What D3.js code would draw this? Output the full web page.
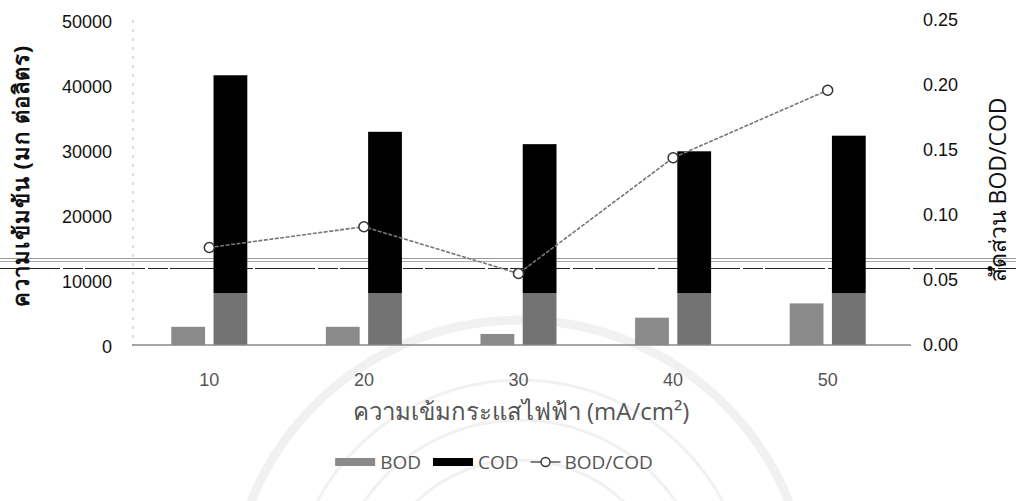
<!DOCTYPE html>
<html>
<head>
<meta charset="utf-8">
<script src="https://cdn.jsdelivr.net/npm/d3@7"></script>
<style>
  body { margin: 0; background: #fff; }
  svg { font-family: "Open Sans", "Noto Sans", sans-serif; }
</style>
</head>
<body>
<script>
const width = 1016,
  height = 501;

// data
const currents = ["10", "20", "30", "40", "50"];
const bod = [2800, 2800, 1700, 4200, 6400];
const cod = [41500, 32800, 30900, 29800, 32200];
const ratio = [0.075, 0.091, 0.055, 0.144, 0.196];
const leftTicks = [0, 10000, 20000, 30000, 40000, 50000];
const rightTicks = [0, 0.05, 0.1, 0.15, 0.2, 0.25];

const margin = { top: 20, right: 109, bottom: 156, left: 132 };

const svg = d3
  .select("body")
  .append("svg")
  .attr("width", width)
  .attr("height", height);

// faint watermark seal behind everything
const wm = svg.append("g").attr("fill", "none").attr("stroke", "#f1f1f1");
[150, 190, 230, 290].forEach((r, i) => {
  wm.append("circle")
    .attr("cx", 520)
    .attr("cy", 610)
    .attr("r", r)
    .attr("stroke-width", i === 3 ? 9 : 3);
});

const x = d3
  .scaleBand()
  .domain(currents)
  .range([margin.left, width - margin.right - 2])
  .padding(0);

const series = d3
  .scaleBand()
  .domain(["BOD", "COD"])
  .range([-38, 38])
  .paddingInner(0.2);

const y = d3
  .scaleLinear()
  .domain([0, 50000])
  .range([height - margin.bottom, margin.top]);

const y2 = d3
  .scaleLinear()
  .domain([0, 0.25])
  .range([height - margin.bottom, margin.top]);

const cx = (d) => x(d) + x.bandwidth() / 2;

// scan lines crossing the figure (drawn under the bars)
const scan = svg.append("g");
scan.append("line").attr("x1", 0).attr("x2", width).attr("y1", 258.5).attr("y2", 258.5).attr("stroke", "#999");
scan.append("line").attr("x1", 0).attr("x2", width).attr("y1", 261.5).attr("y2", 261.5).attr("stroke", "#aaa");
scan.append("line").attr("x1", 0).attr("x2", width).attr("y1", 268.5).attr("y2", 268.5)
  .attr("stroke", "#222").attr("stroke-dasharray", "60,3,20,2");
scan.append("circle").attr("cx", 990).attr("cy", 268.5).attr("r", 2.5).attr("fill", "#111");

// left axis line, dotted
svg.append("line")
  .attr("x1", margin.left + 1).attr("x2", margin.left + 1)
  .attr("y1", margin.top).attr("y2", y(0))
  .attr("stroke", "#bbb")
  .attr("stroke-dasharray", "3,6");

// COD bars are black with a grey lower band in the scan
const defs = svg.append("defs");
const grad = defs
  .append("linearGradient")
  .attr("id", "codFill")
  .attr("gradientUnits", "userSpaceOnUse")
  .attr("x1", 0).attr("x2", 0)
  .attr("y1", y(0)).attr("y2", y(50000));
const cut = (y(0) - y(8000)) / (y(0) - y(50000));
grad.append("stop").attr("offset", 0).attr("stop-color", "#737373");
grad.append("stop").attr("offset", cut).attr("stop-color", "#737373");
grad.append("stop").attr("offset", cut).attr("stop-color", "#000");
grad.append("stop").attr("offset", 1).attr("stop-color", "#000");

svg.append("g")
  .selectAll("rect")
  .data(currents)
  .join("rect")
  .attr("x", (d) => cx(d) + series("BOD"))
  .attr("width", series.bandwidth())
  .attr("y", (d, i) => y(bod[i]))
  .attr("height", (d, i) => y(0) - y(bod[i]))
  .attr("fill", "#8a8a8a");

svg.append("g")
  .selectAll("rect")
  .data(currents)
  .join("rect")
  .attr("x", (d) => cx(d) + series("COD"))
  .attr("width", series.bandwidth())
  .attr("y", (d, i) => y(cod[i]))
  .attr("height", (d, i) => y(0) - y(cod[i]))
  .attr("fill", "url(#codFill)");

// baseline
svg.append("line")
  .attr("x1", margin.left).attr("x2", width - margin.right + 4)
  .attr("y1", y(0)).attr("y2", y(0))
  .attr("stroke", "#888")
  .attr("stroke-width", 1.5);

// BOD/COD line
const line = d3
  .line()
  .x((d) => cx(d))
  .y((d, i) => y2(ratio[i]));

svg.append("path")
  .datum(currents)
  .attr("fill", "none")
  .attr("stroke", "#777")
  .attr("stroke-width", 1.6)
  .attr("stroke-dasharray", "4,1.5")
  .attr("d", line);

svg.append("g")
  .selectAll("circle")
  .data(currents)
  .join("circle")
  .attr("cx", (d) => cx(d))
  .attr("cy", (d, i) => y2(ratio[i]))
  .attr("r", 5)
  .attr("fill", "#fff")
  .attr("stroke", "#333")
  .attr("stroke-width", 1.5);

// axes
const leftAxis = svg.append("g")
  .attr("transform", `translate(${margin.left - 20},0)`)
  .call(d3.axisLeft(y).tickValues(leftTicks).tickSize(0).tickPadding(0).tickFormat(d3.format("d")));
leftAxis.select(".domain").remove();
leftAxis.selectAll("text").attr("font-size", 18).attr("fill", "#111").attr("dy", "0.4em");

const rightAxis = svg.append("g")
  .attr("transform", `translate(${width - margin.right + 16},0)`)
  .call(d3.axisRight(y2).tickValues(rightTicks).tickSize(0).tickPadding(0).tickFormat(d3.format(".2f")));
rightAxis.select(".domain").remove();
rightAxis.selectAll("text").attr("font-size", 18).attr("fill", "#111").attr("dy", "0.3em");

const xAxis = svg.append("g")
  .attr("transform", `translate(0,${y(0) + 28})`)
  .call(d3.axisBottom(x).tickSize(0).tickPadding(0));
xAxis.select(".domain").remove();
xAxis.selectAll("text").attr("font-size", 18).attr("fill", "#555");

// titles
svg.append("text")
  .attr("transform", "translate(29,176) rotate(-90)")
  .attr("text-anchor", "middle")
  .attr("font-size", 22)
  .attr("font-weight", "bold")
  .attr("letter-spacing", 1)
  .attr("fill", "#111")
  .text("ความเข้มข้น (มก ต่อลิตร)");

svg.append("text")
  .attr("transform", "translate(1006,190) rotate(-90)")
  .attr("text-anchor", "middle")
  .attr("font-size", 23)
  .attr("fill", "#111")
  .text("สัดส่วน BOD/COD");

svg.append("text")
  .attr("x", 521)
  .attr("y", 420)
  .attr("text-anchor", "middle")
  .attr("font-size", 24)
  .attr("fill", "#555")
  .text("ความเข้มกระแสไฟฟ้า (mA/cm²)");

// legend, laid out left to right and centred
const legend = svg.append("g").attr("transform", "translate(0,462)");
const items = [
  { key: "BOD", fill: "#8a8a8a" },
  { key: "COD", fill: "#000" },
  { key: "BOD/COD", line: true },
];
let lx = 0;
items.forEach((it) => {
  const g = legend.append("g").attr("transform", `translate(${lx},0)`);
  if (it.line) {
    g.append("line")
      .attr("x1", 0).attr("x2", 30)
      .attr("y1", 0).attr("y2", 0)
      .attr("stroke", "#666").attr("stroke-width", 1.6);
    g.append("circle")
      .attr("cx", 15).attr("cy", 0).attr("r", 4.5)
      .attr("fill", "#fff").attr("stroke", "#333").attr("stroke-width", 1.4);
  } else {
    g.append("rect")
      .attr("x", 0).attr("y", -4)
      .attr("width", 40).attr("height", 8)
      .attr("fill", it.fill);
  }
  const t = g.append("text")
    .attr("x", it.line ? 34 : 45)
    .attr("y", 7)
    .attr("font-size", 19)
    .attr("fill", "#555")
    .text(it.key);
  lx += (it.line ? 34 : 45) + t.node().getComputedTextLength() + 12;
});
legend.attr("transform", `translate(${494 - (lx - 12) / 2},462)`);
</script>
</body>
</html>
